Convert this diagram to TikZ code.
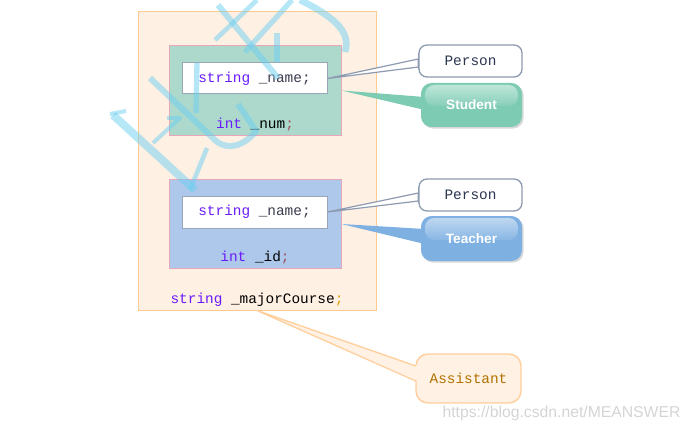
\documentclass[tikz,border=0pt]{standalone}
\usepackage{fontspec}
\setmainfont{Liberation Sans}
\setmonofont{Liberation Mono}
\usetikzlibrary{calc,shadows}
\definecolor{peach}{HTML}{FFF0E4}
\definecolor{peachline}{HTML}{FFC98F}
\definecolor{greenbox}{HTML}{ACD9CC}
\definecolor{bluebox}{HTML}{ADC8EA}
\definecolor{pinkline}{HTML}{E8A8B8}
\definecolor{grayline}{HTML}{9AA5B5}
\definecolor{personline}{HTML}{8E9AB0}
\definecolor{persontext}{HTML}{2A3550}
\definecolor{stc}{HTML}{7CCBB2}
\definecolor{tcc}{HTML}{7EB0E2}
\definecolor{asfill}{HTML}{FFF1E4}
\definecolor{asline}{HTML}{FFCF9E}
\definecolor{astext}{HTML}{B07200}
\definecolor{kw}{HTML}{6A1BFA}
\definecolor{nm}{HTML}{3C3C50}
\definecolor{semi}{HTML}{A05060}
\definecolor{semio}{HTML}{E0A000}
\definecolor{wmc}{HTML}{6CCFF0}
\begin{document}
\begin{tikzpicture}[x=0.75pt,y=-0.75pt,
  box/.style={draw, inner sep=0pt, line width=0.75pt},
  code/.style={font=\ttfamily\fontsize{10.8}{12}\selectfont, inner sep=0pt},
  pbox/.style={draw=personline, fill=white, line width=1pt, rounded corners=6pt, inner sep=0pt,
    minimum width=77.25pt, minimum height=24pt, text=persontext, font=\ttfamily\fontsize{10.8}{12}\selectfont},
  bubble/.style={rounded corners=8pt, inner sep=0pt, minimum width=75.75pt, minimum height=33pt,
    drop shadow={shadow xshift=1.2pt, shadow yshift=-1.2pt, opacity=0.3}},
  btext/.style={text=white, font=\bfseries\fontsize{10.2}{12}\selectfont, inner sep=0pt},
  pline/.style={draw=personline, line width=0.9pt},
  wm/.style={draw=wmc, opacity=0.5, line cap=butt, line join=round},
]
\useasboundingbox (0,0) rectangle (691,431);

% outer container
\node[box, draw=peachline, fill=peach, minimum width=178.5pt, minimum height=223.5pt] (o) at (257,161) {};

% Student part
\node[box, draw=pinkline, fill=greenbox, minimum width=129pt, minimum height=66.75pt] (g) at (255,90.5) {};
\node[box, draw=grayline, fill=white, minimum width=108.75pt, minimum height=23.25pt, code] (w1) at (254.5,78.5)
  {\textcolor{kw}{string} \textcolor{nm}{\_name;}};
\node[code] (num) at (255,124.5) {\textcolor{kw}{int} \textcolor{black}{\_num}\textcolor{semi}{;}};

% Teacher part
\node[box, draw=pinkline, fill=bluebox, minimum width=129pt, minimum height=66.75pt] (b) at (255,223.5) {};
\node[box, draw=grayline, fill=white, minimum width=108.75pt, minimum height=24pt, code] (w2) at (254.5,212)
  {\textcolor{kw}{string} \textcolor{nm}{\_name;}};
\node[code] (id) at (255,257.5) {\textcolor{kw}{int} \textcolor{black}{\_id}\textcolor{semi}{;}};

% Assistant member
\node[code] (mc) at (257,299.5) {\textcolor{kw}{string} \textcolor{black}{\_majorCourse}\textcolor{semio}{;}};

% right side labels
\node[pbox] (p1) at (470.5,61) {Person};
\node[pbox] (p2) at (470.5,195) {Person};
\node[bubble, fill=stc] (st) at (471.5,105) {};
\node[bubble, fill=tcc, minimum height=33.75pt] (tc) at (471.5,238.5) {};
\node[draw=asline, fill=asfill, line width=1.1pt, rounded corners=9pt, inner sep=0pt,
  minimum width=78.75pt, minimum height=36.75pt, text=astext,
  font=\ttfamily\fontsize{10.8}{12}\selectfont] (as) at (468.5,378.5) {Assistant};

% callouts to Person
\filldraw[pline, fill=white] (w1.east) -- ($(p1.west)+(0,-2)$) -- ($(p1.west)+(0,6)$) -- cycle;
\filldraw[pline, fill=white] (w2.east) -- ($(p2.west)+(0,-2)$) -- ($(p2.west)+(0,6)$) -- cycle;
\draw[personline, line width=1pt] ($(p1.west)+(0,-8)$) -- ($(p1.west)+(0,8)$);
\draw[personline, line width=1pt] ($(p2.west)+(0,-8)$) -- ($(p2.west)+(0,8)$);

% callouts to Student / Teacher
\fill[stc] (g.east) -- ($(st.west)+(4,-8)$) -- ($(st.west)+(4,5)$) -- cycle;
\fill[tcc] ($(b.east)+(0,0.5)$) -- ($(tc.west)+(4,-9.5)$) -- ($(tc.west)+(4,5.5)$) -- cycle;

% glossy highlights
\shade[top color=white!50!stc, bottom color=white!8!stc, rounded corners=7pt] (425,85) rectangle (518,106);
\shade[top color=white!50!tcc, bottom color=white!8!tcc, rounded corners=7pt] (425,218) rectangle (518,240);
\node[btext] (stt) at (471.5,105) {Student};
\node[btext] (tct) at (471.5,238.5) {Teacher};

% callout to Assistant
\fill[asfill] (o.south) -- ($(as.west)+(3,-12.5)$) -- ($(as.west)+(3,2.5)$) -- cycle;
\draw[asline, line width=1pt] ($(as.west)+(0.5,-12.5)$) -- (o.south) -- ($(as.west)+(0.5,2.5)$);

% watermark strokes
\draw[wm, line width=6pt] (113,115) -- (195,190);
\draw[wm, line width=3pt] (110,114) -- (126,111);
\draw[wm, line width=3.5pt] (207,148) -- (190,190);
\draw[wm, line width=3pt] (167,118) -- (180,118) -- (153,143);
\draw[wm, line width=4.5pt] (150,78) -- (215,140) .. controls (228,152) and (245,145) .. (256,131) -- (238,104);
\draw[wm, line width=4pt] (197,63) -- (196,113);
\draw[wm, line width=4.5pt] (218,5) -- (278,78);
\draw[wm, line width=3.5pt] (257,0) -- (215,40);
\draw[wm, line width=4pt] (292,0) -- (245,52);
\draw[wm, line width=5pt] (300,0) .. controls (330,15) and (352,30) .. (345,52);
\draw[wm, line width=4pt] (277,33) -- (277,62);

% site watermark
\node[text=black!17, font=\fontsize{11.8}{13}\selectfont, inner sep=0pt] (url) at (561.5,413) {https://blog.csdn.net/MEANSWER};
\end{tikzpicture}
\end{document}
